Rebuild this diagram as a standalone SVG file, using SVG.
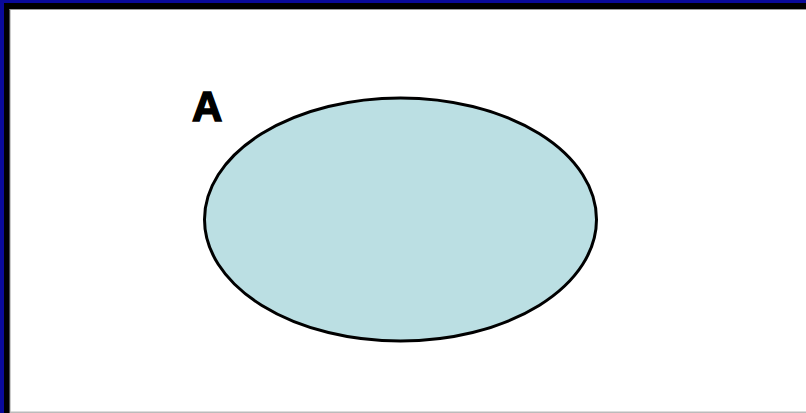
<svg xmlns="http://www.w3.org/2000/svg" width="806" height="413" viewBox="0 0 806 413">
<style>
.lbl{font-family:"Liberation Sans",Arial,sans-serif;font-weight:bold;font-size:42px;fill:#000;stroke:#000;stroke-width:1.5px}
</style>
<rect x="0" y="0" width="806" height="413" fill="#ffffff"/>
<g id="frame">
<rect x="0" y="0" width="806" height="3" fill="#0a0a9a"/>
<rect x="0" y="0" width="4" height="413" fill="#0a0a9a"/>
<rect x="4" y="3" width="802" height="6" fill="#000"/>
<rect x="4" y="3" width="6" height="410" fill="#000"/>
<rect x="9.5" y="9" width="796.5" height="1" fill="#999"/>
<rect x="9.5" y="9" width="1" height="404" fill="#999"/>
<rect x="10" y="411.5" width="796" height="1.5" fill="#bbb"/>
</g>
<g id="setA">
<ellipse cx="400.5" cy="219.5" rx="196" ry="121.5" fill="#bbdfe3" stroke="#000" stroke-width="3"/>
<text class="lbl" x="192" y="121">A</text>
</g>
</svg>
